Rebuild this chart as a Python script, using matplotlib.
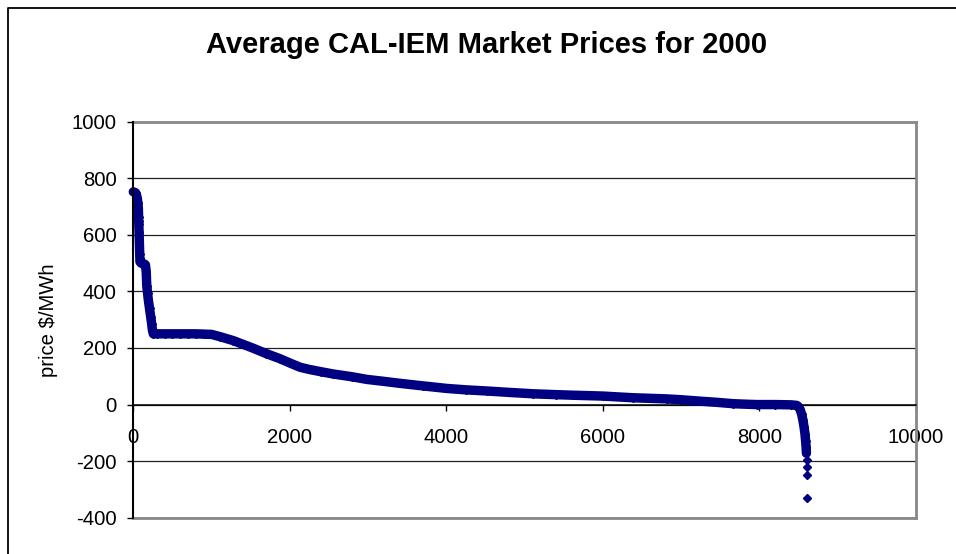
import matplotlib
matplotlib.use("Agg")
import matplotlib.pyplot as plt
from matplotlib.lines import Line2D

plt.rcParams['font.family'] = ['Liberation Sans', 'DejaVu Sans']

TITLE = "Average CAL-IEM Market Prices for 2000"
Y_LABEL = "price $/MWh"
X_TICKS = [0, 2000, 4000, 6000, 8000, 10000]
Y_TICKS = [-400, -200, 0, 200, 400, 600, 800, 1000]

# continuous part of the price-duration curve (hour rank, $/MWh)
curve_hours = [0, 10, 20, 30, 40, 50, 60, 65,
               85, 100, 120, 140, 155, 165, 172, 182, 192, 207, 222, 235, 245, 256,
               300, 400, 500, 600, 700, 800, 900, 1000, 1108, 1278, 1533, 1700, 1874,
               2000, 2130, 2250, 2400, 2555, 2800, 2982, 3200, 3407, 3700, 4004,
               4250, 4515, 4800, 5110, 5400, 5620, 6000, 6388, 6815, 7000, 7240,
               7450, 7666, 7850, 7965, 8200, 8400, 8476, 8500, 8520, 8540, 8555,
               8570, 8582, 8590, 8596, 8600]
curve_prices = [752, 751, 750, 748, 742, 730, 712, 690,
                505, 500, 499, 497, 494, 470, 420, 395, 370, 340, 311, 285, 262, 250,
                250, 250, 250, 250, 250, 250, 249, 248, 240, 226, 199, 180, 162,
                147, 132, 124, 116, 108, 98, 89, 82, 75, 66, 57,
                52, 48, 43, 38, 35, 33, 30, 24, 20, 17, 12,
                8, 3, 1, 0, 0, -1, -3, -8, -18, -35, -55,
                -80, -105, -130, -150, -172]

# isolated hours drawn as separate diamonds
spike_hours = [68, 70, 72, 74, 76, 78, 80, 82,
               8603, 8606, 8608, 8612]
spike_prices = [664, 650, 638, 611, 576, 550, 532, 517,
                -196, -220, -249, -329]

NAVY = "#000080"
GRAY = "#888888"

W, H = 956, 554
fig = plt.figure(figsize=(W / 100, H / 100), dpi=100)
fig.patch.set_facecolor("white")

left, right, top, bottom = 133.3, 916.0, 121.7, 517.7
ax = fig.add_axes([left / W, 1 - bottom / H, (right - left) / W, (bottom - top) / H])

ax.plot(curve_hours, curve_prices, color=NAVY, lw=6.8, solid_capstyle="round",
        solid_joinstyle="round", marker="D", ms=3.8, mec=NAVY, mfc=NAVY, zorder=3,
        clip_on=False)
ax.plot(spike_hours, spike_prices, ls="none", marker="D", ms=4.4, mec=NAVY,
        mfc=NAVY, zorder=3, clip_on=False)

ax.set_xlim(0, 10000)
ax.set_ylim(-400, 1000)
ax.set_xticks(X_TICKS)
ax.set_yticks(Y_TICKS)
ax.set_xticklabels([str(v) for v in X_TICKS])
ax.set_yticklabels([str(v) for v in Y_TICKS])

ax.yaxis.grid(True, color="#222222", lw=0.9)
ax.set_axisbelow(True)

ax.spines["bottom"].set_position(("data", 0))
ax.spines["bottom"].set_color("black")
ax.spines["bottom"].set_linewidth(1.1)
ax.spines["left"].set_color("black")
ax.spines["left"].set_linewidth(1.5)
ax.spines["left"].set_zorder(4)
for s in ("top", "right"):
    ax.spines[s].set_color(GRAY)
    ax.spines[s].set_linewidth(2.0)
ax.axhline(-400, color=GRAY, lw=2.0, zorder=2.6, clip_on=False)

ax.tick_params(axis="y", direction="out", length=4.0, width=1.0, color="black",
               labelsize=14.6, pad=8)
ax.tick_params(axis="x", direction="out", length=4.3, width=1.0, color="black",
               labelsize=14.6, pad=12.5)

fig.text(487 / W, 1 - 45 / H, TITLE, ha="center", va="center", fontsize=21,
         fontweight="bold")
fig.text(49 / W, 1 - ((top + bottom) / 2) / H, Y_LABEL, rotation=90, ha="center",
         va="center", fontsize=14.6)

fig.add_artist(Line2D([8 / W, 8 / W, 1.0], [0.0, 1 - 8 / H, 1 - 8 / H],
                      transform=fig.transFigure, color="black", lw=1.3))

fig.savefig("out.png", dpi=100)
